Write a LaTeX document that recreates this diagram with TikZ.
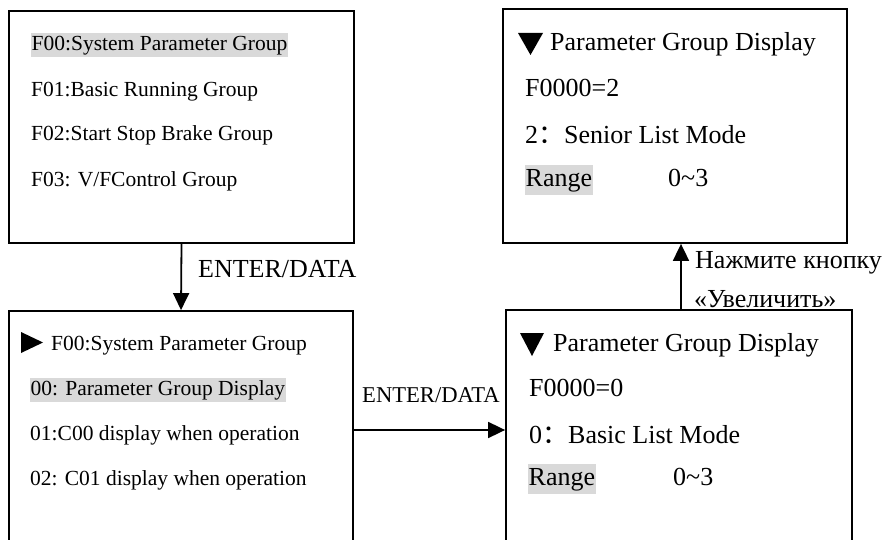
\documentclass[tikz,border=0pt]{standalone}
\usepackage{fontspec}
\setmainfont{Liberation Serif}
\newfontfamily\cjk{Noto Sans CJK SC}
\usetikzlibrary{arrows.meta}
\definecolor{hl}{RGB}{217,217,217}
\begin{document}
\begin{tikzpicture}[x=1pt,y=-1pt,
  box/.style={draw, line width=1.8pt, inner sep=0pt},
  arr/.style={-{Triangle[length=17pt,width=16pt]}, line width=1.8pt},
  small/.style={anchor=west, inner sep=0pt, text height=15pt, text depth=4.3pt, font=\fontsize{21.5}{24}\selectfont},
  big/.style={anchor=west, inner sep=0pt, text height=18pt, text depth=5.2pt, font=\fontsize{26}{30}\selectfont},
  mid/.style={anchor=west, inner sep=0pt, text height=16pt, text depth=4.5pt, font=\fontsize{22.6}{26}\selectfont},
  hlsmall/.style={small, fill=hl, inner xsep=0.5pt, inner ysep=2.5pt},
  hlbig/.style={big, fill=hl, inner xsep=0.5pt, inner ysep=3pt},
  tri/.style={fill=black}]
\clip (0,0) rectangle (884,540);
\fill[white] (0,0) rectangle (884,540);
% boxes
\node[box, minimum width=345pt, minimum height=232pt] (A) at (181.5,127) {};
\node[box, minimum width=344pt, minimum height=289pt] (B) at (181,455.5) {};
\node[box, minimum width=344pt, minimum height=234pt] (C) at (675,126) {};
\node[box, minimum width=346pt, minimum height=290pt] (D) at (679,455) {};
% box A text
\node[hlsmall] (a1) at (31,45) {F00:System Parameter Group};
\node[small] (a2) at (31,91) {F01:Basic Running Group};
\node[small] (a3) at (31,135) {F02:Start Stop Brake Group};
\node[small] (a4) at (31,181) {F03: V/FControl Group};
% box B text
\fill[tri] (21,332) -- (43,342.5) -- (21,353) -- cycle;
\node[small] (b1) at (51,345) {F00:System Parameter Group};
\node[hlsmall] (b2) at (30,390) {00: Parameter Group Display};
\node[small] (b3) at (30,435) {01:C00 display when operation};
\node[small] (b4) at (30,480) {02: C01 display when operation};
% box C text
\fill[tri] (518,33) -- (543,33) -- (530.5,55) -- cycle;
\node[big] (c1) at (550,44) {Parameter Group Display};
\node[big] (c2) at (525,90) {F0000=2};
\node[big] (c3) at (525,137) {2{\cjk ：}Senior List Mode};
\node[hlbig] (c4) at (525,180) {Range};
\node[big] (c5) at (668,180) {0\char`\~3};
% box D text
\fill[tri] (520,333) -- (544,333) -- (532,356) -- cycle;
\node[big] (d1) at (553,345) {Parameter Group Display};
\node[big] (d2) at (529,390) {F0000=0};
\node[big] (d3) at (529,437) {0{\cjk ：}Basic List Mode};
\node[hlbig] (d4) at (528,479) {Range};
\node[big] (d5) at (673,479) {0\char`\~3};
% connectors
\coordinate (m) at (0,430);
\coordinate (n) at (681,0);
\draw[arr] (A.south) -- (B.north);
\draw[arr] (B.east |- m) -- (D.west |- m);
\draw[arr] (D.north -| n) -- (C.south -| n);
% labels
\node[big] (l1) at (198,271) {ENTER/DATA};
\node[mid] (l2) at (362,397) {ENTER/DATA};
\node[big] (l3) at (695,262) {Нажмите кнопку};
\node[big] (l4) at (694,301) {«Увеличить»};
\end{tikzpicture}
\end{document}
